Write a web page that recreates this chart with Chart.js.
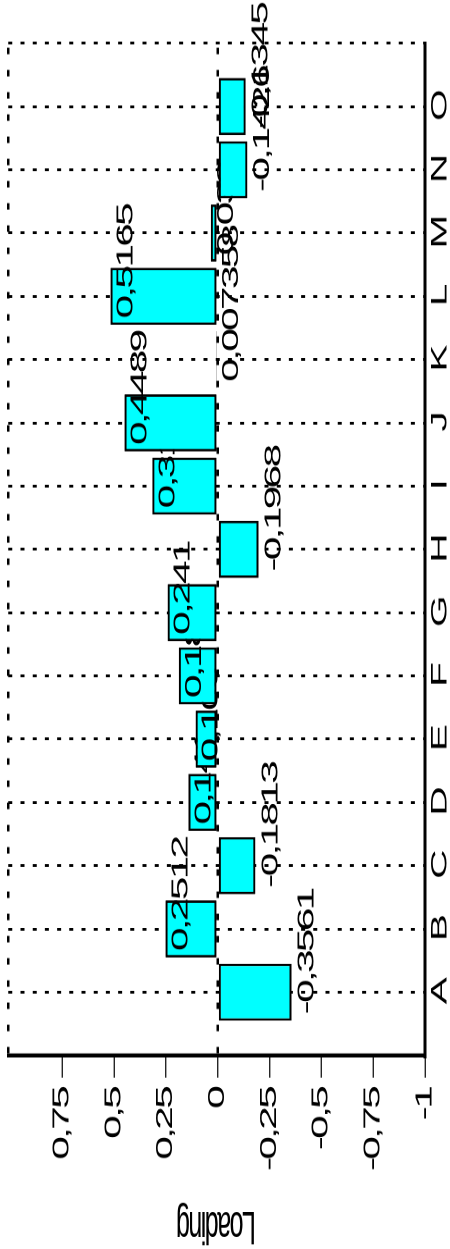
<!DOCTYPE html>
<html>
<head>
<meta charset="utf-8">
<script src="https://cdn.jsdelivr.net/npm/chart.js@4.4.1/dist/chart.umd.min.js"></script>
<style>
  html, body { margin: 0; padding: 0; background: #fff; overflow: hidden; width: 450px; height: 1249px; }
  /* chart is laid out as a 675x450 landscape plot, then turned a quarter-turn and stretched to fill the page */
  #wrap { position: absolute; left: 0; top: 0; width: 675px; height: 450px;
          transform-origin: 0 0; transform: matrix(0, -1.850370, 1, 0, 0, 1249); }
  canvas { display: block; }
</style>
</head>
<body>
<div id="wrap"><canvas id="c" width="675" height="450"></canvas></div>
<script>
// loadings per variable
const categories = ['A','B','C','D','E','F','G','H','I','J','K','L','M','N','O'];
const loadings   = [-0.3561, 0.2512, -0.1813, 0.141, 0.106, 0.187, 0.241, -0.1968,
                    0.315, 0.4489, 0.007358, 0.5165, 0.033, -0.1426, -0.1345];

// value axis
const tickValues = [-1, -0.75, -0.5, -0.25, 0, 0.25, 0.5, 0.75];
const tickLabels = ['-1', '-0,75', '-0,5', '-0,25', '0', '0,25', '0,5', '0,75'];
const valueMin = -1;
const valueMax = 1.01;
const axisTitle = 'Loading';

const FONT = '"Liberation Sans", Arial, Helvetica, sans-serif';
const SPACING = '-1.5px';

// one empty slot on each side of the categories
const slotLabels = [''].concat(categories, ['']);
const slotData = [null].concat(loadings, [null]);

function fmt(v) {
  return String(Number(v.toPrecision(4))).replace('.', ',');
}

const tightText = {
  id: 'tightText',
  beforeDraw(chart) { chart.ctx.letterSpacing = SPACING; }
};

// value labels: each label is drawn after its own bar and before the next bar
const valueLabels = {
  id: 'valueLabels',
  afterDatasetsDraw(chart) {
    const ctx = chart.ctx;
    const meta = chart.getDatasetMeta(0);
    const yScale = chart.scales.y;
    const order = [];
    slotData.forEach((v, i) => { if (v !== null) order.push(i); });
    ctx.save();
    ctx.letterSpacing = SPACING;
    order.forEach((i, k) => {
      const el = meta.data[i];
      const v = slotData[i];
      ctx.save();
      ctx.font = '23px ' + FONT;
      ctx.fillStyle = '#000';
      ctx.textAlign = 'left';
      ctx.textBaseline = 'alphabetic';
      ctx.fillText(fmt(v), el.x - 12, yScale.getPixelForValue(v) + 22);
      ctx.restore();
      if (k + 1 < order.length) meta.data[order[k + 1]].draw(ctx);
    });
    ctx.restore();
  }
};

new Chart(document.getElementById('c'), {
  type: 'bar',
  data: {
    labels: slotLabels,
    datasets: [{
      data: slotData,
      backgroundColor: '#00ffff',
      borderColor: '#000',
      borderWidth: { top: 2, bottom: 2, left: 1.3, right: 1.3 },
      borderSkipped: false,
      categoryPercentage: 1,
      barPercentage: 0.9
    }]
  },
  options: {
    responsive: false,
    animation: false,
    devicePixelRatio: 2,
    layout: { padding: { top: 8.3, right: 23.4, bottom: 0, left: 0 } },
    plugins: { legend: { display: false }, tooltip: { enabled: false } },
    scales: {
      x: {
        type: 'category',
        offset: false,
        grid: { display: true, offset: false, color: '#000', lineWidth: 1.5, drawTicks: false },
        border: { display: true, color: '#000', width: 3, dash: [4, 8.2] },
        ticks: { font: { family: FONT, size: 22 }, color: '#000', padding: 2,
                 autoSkip: false, maxRotation: 0, minRotation: 0 },
        afterFit(scale) {
          scale.height = 25;
          scale.paddingLeft = 0; scale.paddingRight = 0;
        }
      },
      y: {
        min: valueMin,
        max: valueMax,
        afterBuildTicks(scale) {
          scale.ticks = tickValues.concat([valueMax]).map(v => ({ value: v }));
        },
        afterFit(scale) {
          scale.width = 104.6;
          scale.paddingTop = 0; scale.paddingBottom = 0;
        },
        grid: {
          display: true,
          drawTicks: true,
          tickLength: 12,
          tickWidth: 1.2,
          lineWidth: 2.5,
          color: (c) => (c.tick && (c.tick.value === 0 || c.tick.value === valueMax)) ? '#000' : 'rgba(0,0,0,0)',
          tickColor: (c) => (c.tick && c.tick.value === valueMax) ? 'rgba(0,0,0,0)' : '#000'
        },
        border: { display: true, color: '#000', width: 2.2, dash: [3.5, 8.5] },
        ticks: {
          autoSkip: false,
          padding: 5.6,
          color: '#000',
          font: { family: FONT, size: 23 },
          callback: (value) => {
            const i = tickValues.indexOf(value);
            return i >= 0 ? tickLabels[i] : '';
          }
        },
        title: {
          display: true,
          text: axisTitle,
          color: '#000',
          padding: 0,
          font: { family: FONT, size: 25, lineHeight: 1.04 }
        }
      }
    }
  },
  plugins: [tightText, valueLabels]
});
</script>
</body>
</html>
